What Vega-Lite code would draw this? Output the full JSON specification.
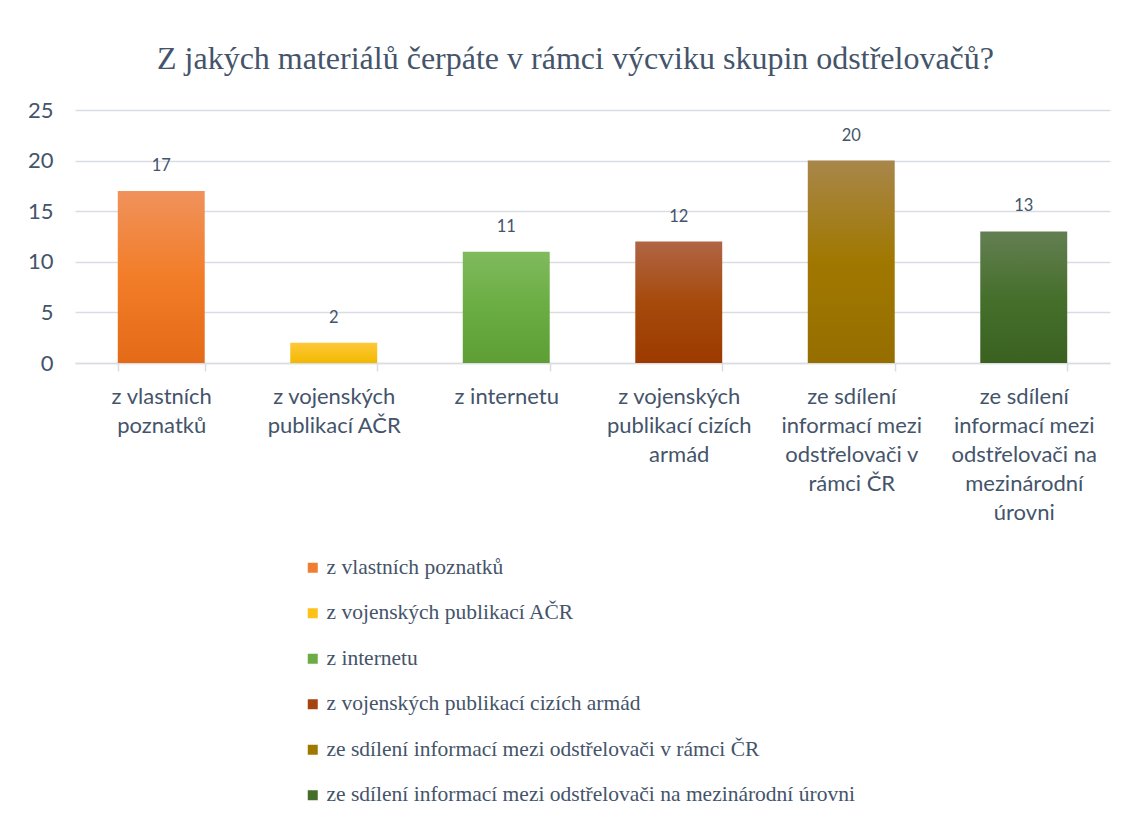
{
  "$schema": "https://vega.github.io/schema/vega-lite/v6.json",
  "autosize": "none",
  "width": 1035,
  "height": 253,
  "padding": {"left": 75, "top": 110, "right": 23, "bottom": 458},
  "background": "white",
  "view": {"stroke": null},
  "title": {
    "text": "Z jakých materiálů čerpáte v rámci výcviku skupin odstřelovačů?",
    "font": "Liberation Serif",
    "fontSize": 32,
    "fontWeight": "normal",
    "color": "#44546A",
    "anchor": "middle",
    "dx": -17,
    "offset": 23
  },
  "data": {
    "values": [
      {"kategorie": "z vlastních poznatků", "pocet": 17},
      {"kategorie": "z vojenských publikací AČR", "pocet": 2},
      {"kategorie": "z internetu", "pocet": 11},
      {"kategorie": "z vojenských publikací cizích armád", "pocet": 12},
      {"kategorie": "ze sdílení informací mezi odstřelovači v rámci ČR", "pocet": 20},
      {"kategorie": "ze sdílení informací mezi odstřelovači na mezinárodní úrovni", "pocet": 13}
    ]
  },
  "encoding": {
    "x": {
      "field": "kategorie",
      "type": "nominal",
      "sort": null,
      "scale": {"paddingInner": 0.496, "paddingOuter": 0.248},
      "axis": {
        "title": null,
        "labelAngle": 0,
        "labelFont": "Lato",
        "labelFontSize": 22,
        "labelColor": "#44546A",
        "labelLineHeight": 29,
        "labelPadding": 15,
        "labelBaseline": "top",
        "labelLimit": 0,
        "tickBand": "extent",
        "tickColor": "#D9DDE3",
        "tickSize": 8,
        "tickWidth": 1.5,
        "domainColor": "#D9DDE3",
        "domainWidth": 1.5,
        "grid": false,
        "labelExpr": "datum.extra ? '' : datum.value == 'z vlastních poznatků' ? ['z vlastních','poznatků'] : datum.value == 'z vojenských publikací AČR' ? ['z vojenských','publikací AČR'] : datum.value == 'z internetu' ? ['z internetu'] : datum.value == 'z vojenských publikací cizích armád' ? ['z vojenských','publikací cizích','armád'] : datum.value == 'ze sdílení informací mezi odstřelovači v rámci ČR' ? ['ze sdílení','informací mezi','odstřelovači v','rámci ČR'] : ['ze sdílení','informací mezi','odstřelovači na','mezinárodní','úrovni']"
      }
    },
    "y": {
      "field": "pocet",
      "type": "quantitative",
      "scale": {"domain": [0, 25], "nice": false},
      "axis": {
        "title": null,
        "values": [0, 5, 10, 15, 20, 25],
        "labelFont": "Lato",
        "labelFontSize": 22,
        "labelColor": "#44546A",
        "labelPadding": 22,
        "ticks": false,
        "domain": false,
        "grid": true,
        "gridColor": "#D9DDE3",
        "gridWidth": 1.5
      }
    }
  },
  "layer": [
    {
      "mark": {"type": "bar"},
      "encoding": {
        "fill": {
          "field": "kategorie",
          "type": "nominal",
          "sort": null,
          "scale": {
            "range": ["#F07E32", "#FCC218", "#6BAD45", "#A54410", "#A07800", "#456E2B"]
          },
          "condition": [
            {"test": "datum.kategorie == 'z vlastních poznatků'", "value": {"gradient": "linear", "x1": 0, "y1": 0, "x2": 0, "y2": 1, "stops": [{"offset": 0, "color": "#F0925C"}, {"offset": 0.5, "color": "#F27D28"}, {"offset": 1, "color": "#E46A18"}]}},
            {"test": "datum.kategorie == 'z vojenských publikací AČR'", "value": {"gradient": "linear", "x1": 0, "y1": 0, "x2": 0, "y2": 1, "stops": [{"offset": 0, "color": "#FFC83A"}, {"offset": 1, "color": "#F2B800"}]}},
            {"test": "datum.kategorie == 'z internetu'", "value": {"gradient": "linear", "x1": 0, "y1": 0, "x2": 0, "y2": 1, "stops": [{"offset": 0, "color": "#80BA5E"}, {"offset": 0.5, "color": "#6AAD42"}, {"offset": 1, "color": "#5E9E34"}]}},
            {"test": "datum.kategorie == 'z vojenských publikací cizích armád'", "value": {"gradient": "linear", "x1": 0, "y1": 0, "x2": 0, "y2": 1, "stops": [{"offset": 0, "color": "#B06545"}, {"offset": 0.5, "color": "#A64A0C"}, {"offset": 1, "color": "#9C3A00"}]}},
            {"test": "datum.kategorie == 'ze sdílení informací mezi odstřelovači v rámci ČR'", "value": {"gradient": "linear", "x1": 0, "y1": 0, "x2": 0, "y2": 1, "stops": [{"offset": 0, "color": "#A8864A"}, {"offset": 0.5, "color": "#A07800"}, {"offset": 1, "color": "#966E00"}]}},
            {"test": "datum.kategorie == 'ze sdílení informací mezi odstřelovači na mezinárodní úrovni'", "value": {"gradient": "linear", "x1": 0, "y1": 0, "x2": 0, "y2": 1, "stops": [{"offset": 0, "color": "#637F52"}, {"offset": 0.5, "color": "#466F2C"}, {"offset": 1, "color": "#3A6120"}]}}
          ],
          "legend": {
            "title": null,
            "orient": "none",
            "legendX": 227,
            "legendY": 447,
            "padding": 0,
            "symbolType": "square",
            "symbolSize": 100,
            "symbolStrokeWidth": 0,
            "labelFont": "Liberation Serif",
            "labelFontSize": 21.5,
            "labelColor": "#44546A",
            "labelOffset": 3,
            "labelLimit": 0,
            "rowPadding": 22.5
          }
        }
      }
    },
    {
      "mark": {"type": "text", "baseline": "middle", "dy": -25, "font": "Lato", "fontSize": 16.5, "color": "#44546A"},
      "encoding": {
        "text": {"field": "pocet", "type": "quantitative"}
      }
    }
  ]
}
